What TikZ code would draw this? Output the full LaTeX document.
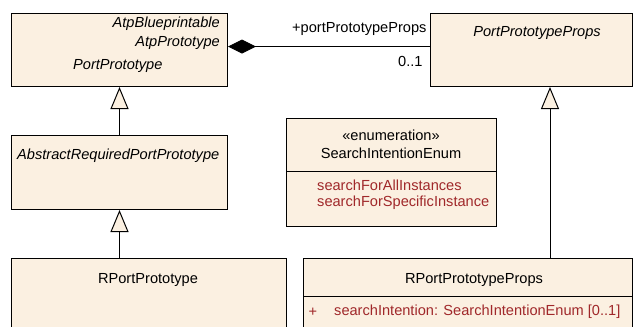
\documentclass[tikz,border=0pt]{standalone}
\usepackage{fontspec}
\setmainfont{Liberation Sans}
\usetikzlibrary{arrows.meta}
\definecolor{boxfill}{HTML}{FBF0E1}
\definecolor{attr}{HTML}{A0282A}
\begin{document}
\begin{tikzpicture}[x=1pt,y=-1pt,
  font=\fontsize{14.6}{17}\selectfont,
  cls/.style={draw=black, line width=1pt, fill=boxfill, inner sep=0pt, anchor=north west},
  lbl/.style={inner sep=0pt},
  it/.style={lbl, font=\fontsize{14.6}{17}\selectfont\itshape},
  attrtxt/.style={lbl, text=attr},
  sep/.style={line width=1pt},
  gen/.style={line width=1pt, -{Triangle[length=22pt,width=18pt,fill=boxfill,line width=1pt]}},
  comp/.style={line width=1pt, {Diamond[length=28pt,width=14pt,line width=1pt]}-}
]
\useasboundingbox (0,0) rectangle (633,327);

% boxes
\node[cls, minimum width=216pt, minimum height=73pt] (pp) at (11,13) {};
\node[cls, minimum width=202pt, minimum height=73pt] (ppp) at (430,13) {};
\node[cls, minimum width=216pt, minimum height=74pt] (arpp) at (11,135) {};
\node[cls, minimum width=275pt, minimum height=90pt] (rpp) at (11,258) {};
\node[cls, minimum width=210pt, minimum height=108pt] (enum) at (286,118) {};
\node[cls, minimum width=329pt, minimum height=90pt] (rppp) at (303,258) {};

% separators
\draw[sep] (enum.west |- 0,171) coordinate (es1) -- (enum.east |- es1);
\draw[sep] (rppp.west |- 0,296.5) coordinate (rs1) -- (rppp.east |- rs1);

% texts
\node[it, anchor=east] (t1) at (220,24) {AtpBlueprintable};
\node[it, anchor=east] (t2) at (220,43) {AtpPrototype};
\node[it, anchor=west] (t3) at (73,66) {PortPrototype};
\node[it] (t4) at (537,33) {PortPrototypeProps};
\node[it, anchor=west] (t5) at (17,156) {AbstractRequiredPortPrototype};
\node[lbl] (t6) at (148,280) {RPortPrototype};
\node[lbl] (t7) at (391,135) {«enumeration»};
\node[lbl] (t8) at (391,153) {SearchIntentionEnum};
\node[attrtxt, anchor=west] (t9) at (317,185) {searchForAllInstances};
\node[attrtxt, anchor=west] (t10) at (317,203) {searchForSpecificInstance};
\node[lbl] (t11) at (474,280) {RPortPrototypeProps};
\node[attrtxt] (t12) at (313,312) {+};
\node[attrtxt, anchor=west] (t13) at (334,312) {searchIntention: SearchIntentionEnum [0..1]};

% composition
\draw[comp] ([yshift=3.5pt]pp.east) -- ([yshift=3.5pt]pp.east -| ppp.west)
  node[lbl, pos=1, anchor=south east, yshift=10pt, xshift=-3pt] (r1) {+portPrototypeProps}
  node[lbl, pos=1, anchor=north east, yshift=-9pt, xshift=-7pt] (m1) {0..1};

% generalizations
\draw[gen] (arpp.north) -- (pp.south);
\draw[gen] (rpp.north -| arpp.south) -- (arpp.south);
\coordinate (g) at (550,0);
\draw[gen] (rppp.north -| g) -- (ppp.south -| g);
\end{tikzpicture}
\end{document}
